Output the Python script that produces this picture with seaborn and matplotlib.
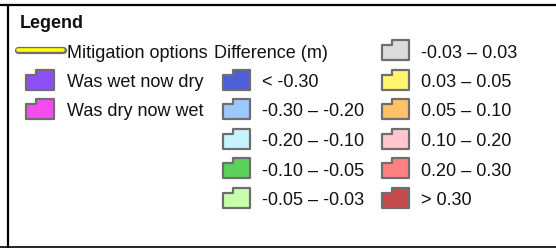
import pandas as pd
import matplotlib
matplotlib.use('Agg')
import matplotlib.pyplot as plt
import seaborn as sns
from matplotlib.path import Path

# legend content
title = 'Legend'
line_label = 'Mitigation options'
diff_header = 'Difference (m)'

wet_labels = ['Was wet now dry', 'Was dry now wet']
wet_colors = ['#8D4EF8', '#F54CF0']

diff_labels = ['< -0.30', '-0.30 \u2013 -0.20', '-0.20 \u2013 -0.10',
               '-0.10 \u2013 -0.05', '-0.05 \u2013 -0.03']
diff_colors = ['#4A5FD8', '#9DC8FF', '#C5F3FF', '#5CD05A', '#C8FFAA']

pos_labels = ['-0.03 \u2013 0.03', '0.03 \u2013 0.05', '0.05 \u2013 0.10',
              '0.10 \u2013 0.20', '0.20 \u2013 0.30', '> 0.30']
pos_colors = ['#DCDCDC', '#FFF56E', '#FFC266', '#FFC8CC', '#FF8080', '#C84B4B']

sns.set_style('white')
plt.rcParams['font.family'] = ['Liberation Sans', 'DejaVu Sans']

fig = plt.figure(figsize=(5.56, 2.48), dpi=100)
ax = fig.add_axes([0, 0, 1, 1])
ax.set_xlim(0, 556)
ax.set_ylim(248, 0)
ax.axis('off')

# row layout (pixels)
y0, dy = 51, 29.5
fs = 13

# build swatch table: column x, row index
rows = []
for i, (lab, col) in enumerate(zip(wet_labels, wet_colors)):
    rows.append({'label': lab, 'color': col, 'x': 40, 'row': i + 1, 'tx': 67})
for i, (lab, col) in enumerate(zip(diff_labels, diff_colors)):
    rows.append({'label': lab, 'color': col, 'x': 236.5, 'row': i + 1, 'tx': 262})
for i, (lab, col) in enumerate(zip(pos_labels, pos_colors)):
    rows.append({'label': lab, 'color': col, 'x': 395.5, 'row': i, 'tx': 421})
df = pd.DataFrame(rows)
df['y'] = y0 + df['row'] * dy - 1

# folder-like polygon swatch
verts = [(-1, -0.72), (1, -0.72), (1, 0.72), (-0.28, 0.72), (-0.28, 0.36),
         (-1, 0.36), (-1, -0.72)]
codes = [Path.MOVETO] + [Path.LINETO] * 5 + [Path.CLOSEPOLY]
swatch = Path(verts, codes)

sns.scatterplot(data=df, x='x', y='y', hue='label',
                palette=dict(zip(df['label'], df['color'])),
                marker=swatch, s=400, edgecolor='#6E6E6E', linewidth=1.6,
                legend=False, ax=ax)

for _, r in df.iterrows():
    ax.text(r['tx'], y0 + r['row'] * dy + 6.5, r['label'], fontsize=fs,
            va='baseline', ha='left', color='#111111')

# mitigation options line symbol
ax.plot([18, 63], [y0 - 1, y0 - 1], color='#6E6E6E', lw=5.2,
        solid_capstyle='round')
ax.plot([18, 63], [y0 - 1, y0 - 1], color='#FFFF00', lw=2.6,
        solid_capstyle='round')
ax.text(67, y0 + 6.5, line_label, fontsize=fs, va='baseline', ha='left',
        color='#111111')
ax.text(214, y0 + 6.5, diff_header, fontsize=fs, va='baseline', ha='left',
        color='#111111')
ax.text(20, 28.5, title, fontsize=13, fontweight='bold', va='baseline',
        ha='left', color='#111111')

# frame
ax.plot([0, 556], [5, 5], color='black', lw=1.6)
ax.plot([8, 8], [5, 247], color='black', lw=1.6)
ax.plot([0, 556], [247, 247], color='black', lw=1.2)

fig.savefig('out.png', dpi=100)
